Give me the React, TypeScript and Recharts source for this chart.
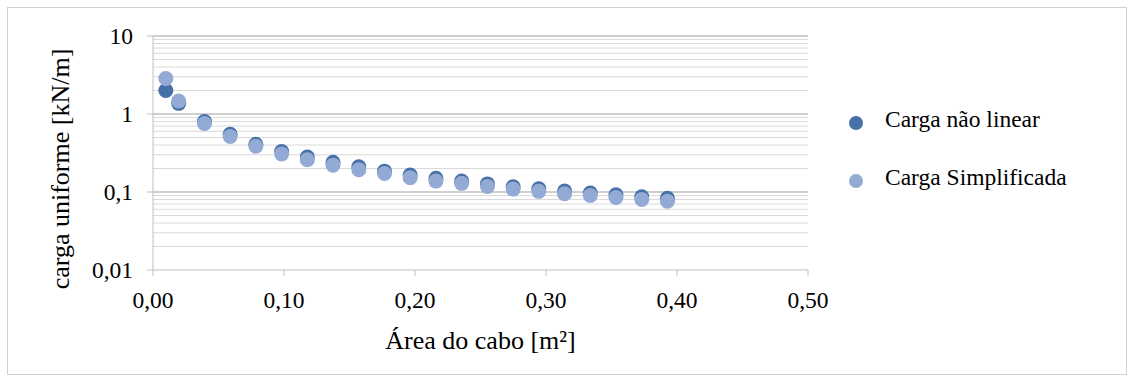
import React from 'react';
import {
  ScatterChart,
  Scatter,
  XAxis,
  YAxis,
  ReferenceLine,
  Label,
} from 'recharts';

// Área do cabo [m²]
const areaCabo = [
  0.0098, 0.0196, 0.0393, 0.0589, 0.0785, 0.0982, 0.1178, 0.1374, 0.1571, 0.1767, 0.1963,
  0.216, 0.2356, 0.2553, 0.2749, 0.2945, 0.3142, 0.3338, 0.3534, 0.3731, 0.3927,
];

// carga uniforme [kN/m]
const cargaNaoLinear = [
  2.0, 1.37, 0.8, 0.55, 0.41, 0.33, 0.28, 0.24, 0.21, 0.185, 0.165,
  0.15, 0.138, 0.127, 0.117, 0.11, 0.103, 0.097, 0.092, 0.087, 0.083,
];
const cargaSimplificada = [
  2.85, 1.47, 0.754, 0.514, 0.386, 0.308, 0.259, 0.221, 0.193, 0.173, 0.152,
  0.138, 0.129, 0.118, 0.109, 0.102, 0.095, 0.09, 0.085, 0.08, 0.076,
];

const xTicks = [0, 0.1, 0.2, 0.3, 0.4, 0.5];
const yTicks = [0.01, 0.1, 1, 10];
const yMinor = [
  0.02, 0.03, 0.04, 0.05, 0.06, 0.07, 0.08, 0.09,
  0.2, 0.3, 0.4, 0.5, 0.6, 0.7, 0.8, 0.9,
  2, 3, 4, 5, 6, 7, 8, 9,
];

const DARK = '#4571a8';
const LIGHT = '#93aad4';
const FONT = '"Liberation Serif", "Times New Roman", serif';
const TICK_SIZE = 23.5;
const TITLE_SIZE = 26;

const naoLinearData = areaCabo.map((x, i) => ({ x, y: cargaNaoLinear[i] }));
const simplificadaData = areaCabo.map((x, i) => ({ x, y: cargaSimplificada[i] }));

const fmtX = (v: number) => v.toFixed(2).replace('.', ',');
const fmtY = (v: number) => String(v).replace('.', ',');

const dot = (color: string) => (p: any) => (
  <circle cx={p.cx} cy={p.cy} r={7.5} fill={color} />
);

const legendItems = [
  { name: 'Carga não linear', color: DARK, top: 99 },
  { name: 'Carga Simplificada', color: LIGHT, top: 157 },
];

// legend drawn as plain html so it doesn't eat into the plot area
const LegendBox = () => (
  <>
    {legendItems.map((it) => (
      <div
        key={it.name}
        style={{
          position: 'absolute',
          left: 841,
          top: it.top,
          height: 24,
          lineHeight: '24px',
          fontFamily: FONT,
          fontSize: TICK_SIZE,
          color: '#000',
          whiteSpace: 'nowrap',
        }}
      >
        <svg
          width={14}
          height={14}
          style={{ position: 'absolute', left: 0, top: 9 }}
        >
          <circle cx={7} cy={7} r={7} fill={it.color} />
        </svg>
        <span style={{ marginLeft: 36 }}>{it.name}</span>
      </div>
    ))}
  </>
);

const App: React.FC = () => {
  return (
    <div
      style={{
        position: 'absolute',
        left: 7,
        top: 7,
        width: 1120,
        height: 368,
        boxSizing: 'border-box',
        border: '1px solid #d0d0d0',
        background: '#fff',
      }}
    >
      <ScatterChart
        width={1118}
        height={366}
        margin={{ top: 28, right: 318, bottom: 74, left: 0 }}
      >
        <XAxis
          type="number"
          dataKey="x"
          domain={[0, 0.5]}
          ticks={xTicks}
          tickFormatter={fmtX}
          height={30}
          tickSize={6}
          tickMargin={15}
          stroke="#bfbfbf"
          tick={{ fill: '#000', fontFamily: FONT, fontSize: TICK_SIZE }}
        >
          <Label
            content={({ viewBox }: any) => (
              <text
                x={viewBox.x + viewBox.width / 2}
                y={viewBox.y + 70}
                textAnchor="middle"
                dominantBaseline="central"
                fontFamily={FONT}
                fontSize={TITLE_SIZE}
                fill="#000"
              >
                Área do cabo [m²]
              </text>
            )}
          />
        </XAxis>
        <YAxis
          type="number"
          dataKey="y"
          scale="log"
          domain={[0.01, 10]}
          ticks={yTicks}
          tickFormatter={fmtY}
          allowDataOverflow
          width={145}
          tickSize={6}
          tickMargin={14}
          stroke="#bfbfbf"
          tick={{ fill: '#000', fontFamily: FONT, fontSize: TICK_SIZE }}
        >
          <Label
            content={({ viewBox }: any) => (
              <text
                x={viewBox.x + 52}
                y={viewBox.y + 133}
                textAnchor="middle"
                dominantBaseline="central"
                transform={`rotate(-90, ${viewBox.x + 52}, ${viewBox.y + 133})`}
                fontFamily={FONT}
                fontSize={TITLE_SIZE}
                fill="#000"
              >
                carga uniforme [kN/m]
              </text>
            )}
          />
        </YAxis>
        {yMinor.map((v) => (
          <ReferenceLine key={`m${v}`} y={v} stroke="#d9d9d9" strokeWidth={1} />
        ))}
        {yTicks.slice(1).map((v) => (
          <ReferenceLine key={`M${v}`} y={v} stroke="#bfbfbf" strokeWidth={1.5} />
        ))}
        <Scatter
          name="Carga não linear"
          data={naoLinearData}
          fill={DARK}
          shape={dot(DARK)}
          isAnimationActive={false}
        />
        <Scatter
          name="Carga Simplificada"
          data={simplificadaData}
          fill={LIGHT}
          shape={dot(LIGHT)}
          isAnimationActive={false}
        />
      </ScatterChart>
      <LegendBox />
    </div>
  );
};

export default App;
